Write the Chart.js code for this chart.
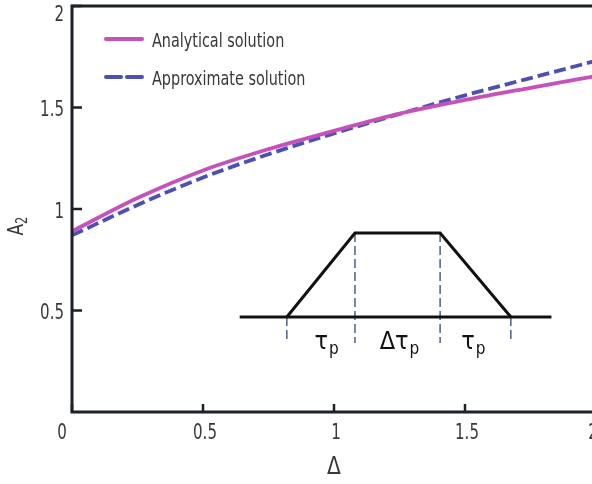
<!DOCTYPE html>
<html>
<head>
<meta charset="utf-8">
<script src="https://cdn.jsdelivr.net/npm/chart.js@4.4.1/dist/chart.umd.min.js"></script>
<style>
  html, body { margin: 0; padding: 0; background: #fff; overflow: hidden; }
  #wrap { width: 592px; height: 484px; overflow: hidden; }
  #box { width: 612px; height: 484px; }
</style>
</head>
<body>
<div id="wrap"><div id="box"><canvas id="chart"></canvas></div></div>
<script>
// curve data
const deltaValues = [0, 0.25, 0.5, 0.75, 1, 1.25, 1.5, 1.75, 2];
const analytical  = [0.89, 1.054, 1.19, 1.295, 1.385, 1.47, 1.537, 1.597, 1.655];
const approximate = [0.87, 1.02, 1.155, 1.27, 1.372, 1.468, 1.56, 1.645, 1.73];
const xTicks = [0, 0.5, 1, 1.5, 2];
const yTicks = [0.5, 1, 1.5, 2];

// inset pulse sketch
const baseX = [0.64, 1.83];
const baseY = 0.468;
const pulseX = [0.82, 1.08, 1.405, 1.675];
const pulseY = [0.468, 0.882, 0.882, 0.468];
const guideBottom = 0.34;
const pulseLabels = [
  { x: 0.97, main: '\u03c4', sub: 'p' },
  { x: 1.248, main: '\u0394\u03c4', sub: 'p' },
  { x: 1.53, main: '\u03c4', sub: 'p' }
];
const labelY = 0.342;

const FONT = '"DejaVu Sans Condensed", "DejaVu Sans", sans-serif';
const TXT = '#383838';
const AXIS = '#1b2127';
const MAGENTA = '#c651ba';
const BLUE = '#4b50b2';

const guides = [];
pulseX.forEach((x, i) => {
  guides.push({ x: x, y: pulseY[i] });
  guides.push({ x: x, y: guideBottom });
  guides.push({ x: x, y: null });
});

// text squeezed sideways to imitate the narrow face of the original
function narrowText(ctx, text, x, y, size, align, squeeze) {
  ctx.save();
  ctx.font = size + 'px ' + FONT;
  ctx.textBaseline = 'middle';
  ctx.textAlign = align;
  ctx.translate(x, y);
  ctx.scale(squeeze, 1);
  ctx.fillText(text, 0, 0);
  ctx.restore();
}

const extras = {
  id: 'extras',
  afterDraw(chart) {
    const { ctx, chartArea: a, scales: { x, y } } = chart;
    ctx.save();
    // frame
    ctx.strokeStyle = AXIS;
    ctx.lineWidth = 3;
    ctx.strokeRect(a.left, a.top, a.right - a.left, a.bottom - a.top);
    // inward ticks
    ctx.lineWidth = 2.5;
    ctx.beginPath();
    yTicks.forEach(v => {
      const py = y.getPixelForValue(v);
      ctx.moveTo(a.left, py); ctx.lineTo(a.left + 10, py);
    });
    xTicks.forEach(v => {
      const px = x.getPixelForValue(v);
      ctx.moveTo(px, a.bottom); ctx.lineTo(px, a.bottom - 8);
    });
    ctx.stroke();

    // tick labels
    ctx.fillStyle = TXT;
    yTicks.forEach(v => {
      const py = Math.max(y.getPixelForValue(v) + 3, a.top + 9);
      narrowText(ctx, String(v), a.left - 8, py, 22, 'right', 0.76);
    });
    xTicks.forEach((v, i) => {
      let shift = 2;
      if (i === 0) shift = -10;
      if (i === xTicks.length - 1) shift = -3;
      narrowText(ctx, String(v), x.getPixelForValue(v) + shift, a.bottom + 21, 22, 'center', 0.76);
    });

    // legend
    const items = [
      { ds: chart.data.datasets[0], y: 39 },
      { ds: chart.data.datasets[1], y: 77 }
    ];
    items.forEach(it => {
      ctx.strokeStyle = it.ds.borderColor;
      ctx.lineWidth = 4;
      ctx.lineCap = 'round';
      ctx.setLineDash(it.ds.borderDash ? [15, 6] : []);
      ctx.beginPath();
      ctx.moveTo(106, it.y); ctx.lineTo(142, it.y);
      ctx.stroke();
      ctx.setLineDash([]);
      ctx.fillStyle = TXT;
      narrowText(ctx, it.ds.label, 152, it.y + 3, 20, 'left', 0.8);
    });
    ctx.lineCap = 'butt';

    // pulse labels
    ctx.fillStyle = '#111';
    pulseLabels.forEach(l => {
      const px = x.getPixelForValue(l.x);
      const py = y.getPixelForValue(labelY);
      ctx.font = '25px ' + FONT;
      const w1 = ctx.measureText(l.main).width;
      ctx.font = '17px ' + FONT;
      const w2 = ctx.measureText(l.sub).width;
      const left = px - (w1 + w2) / 2;
      ctx.textAlign = 'left';
      ctx.textBaseline = 'middle';
      ctx.font = '25px ' + FONT;
      ctx.fillText(l.main, left, py);
      ctx.font = '17px ' + FONT;
      ctx.fillText(l.sub, left + w1 + 1, py + 7);
    });

    // axis titles
    ctx.fillStyle = TXT;
    narrowText(ctx, '\u0394', x.getPixelForValue(1), 467, 25, 'center', 0.9);
    ctx.save();
    ctx.translate(17, 226);
    ctx.rotate(-Math.PI / 2);
    ctx.scale(0.85, 1);
    ctx.textBaseline = 'middle';
    ctx.textAlign = 'left';
    ctx.font = '22px ' + FONT;
    const wa = ctx.measureText('A').width;
    ctx.font = '15px ' + FONT;
    const ws = ctx.measureText('2').width;
    ctx.font = '22px ' + FONT;
    ctx.fillText('A', -(wa + ws) / 2, 0);
    ctx.font = '15px ' + FONT;
    ctx.fillText('2', -(wa + ws) / 2 + wa, 6);
    ctx.restore();
    ctx.restore();
  }
};

new Chart(document.getElementById('chart'), {
  type: 'scatter',
  data: {
    datasets: [
      {
        label: 'Analytical solution',
        data: deltaValues.map((d, i) => ({ x: d, y: analytical[i] })),
        showLine: true,
        borderColor: MAGENTA,
        borderWidth: 3.8,
        pointRadius: 0,
        cubicInterpolationMode: 'monotone'
      },
      {
        label: 'Approximate solution',
        data: deltaValues.map((d, i) => ({ x: d, y: approximate[i] })),
        showLine: true,
        borderColor: BLUE,
        borderWidth: 3.8,
        borderDash: [12, 5],
        pointRadius: 0,
        cubicInterpolationMode: 'monotone'
      },
      {
        label: 'baseline',
        data: baseX.map(v => ({ x: v, y: baseY })),
        showLine: true,
        borderColor: '#111',
        borderWidth: 3,
        pointRadius: 0
      },
      {
        label: 'pulse',
        data: pulseX.map((v, i) => ({ x: v, y: pulseY[i] })),
        showLine: true,
        borderColor: '#111',
        borderWidth: 3,
        pointRadius: 0
      },
      {
        label: 'guides',
        data: guides,
        showLine: true,
        spanGaps: false,
        borderColor: '#4d6180',
        borderWidth: 1.5,
        borderDash: [9, 4],
        pointRadius: 0
      }
    ]
  },
  options: {
    responsive: true,
    maintainAspectRatio: false,
    animation: false,
    layout: { padding: { top: 6, right: 16, left: 0, bottom: 0 } },
    plugins: { legend: { display: false }, tooltip: { enabled: false } },
    scales: {
      x: {
        type: 'linear', min: 0, max: 2,
        afterBuildTicks: s => { s.ticks = xTicks.map(v => ({ value: v })); },
        afterFit: s => { s.height = 72; },
        grid: { display: false, drawTicks: false },
        border: { display: false },
        ticks: { display: false }
      },
      y: {
        type: 'linear', min: 0, max: 2,
        afterBuildTicks: s => { s.ticks = yTicks.map(v => ({ value: v })); },
        afterFit: s => { s.width = 72; },
        grid: { display: false, drawTicks: false },
        border: { display: false },
        ticks: { display: false }
      }
    }
  },
  plugins: [extras]
});
</script>
</body>
</html>
